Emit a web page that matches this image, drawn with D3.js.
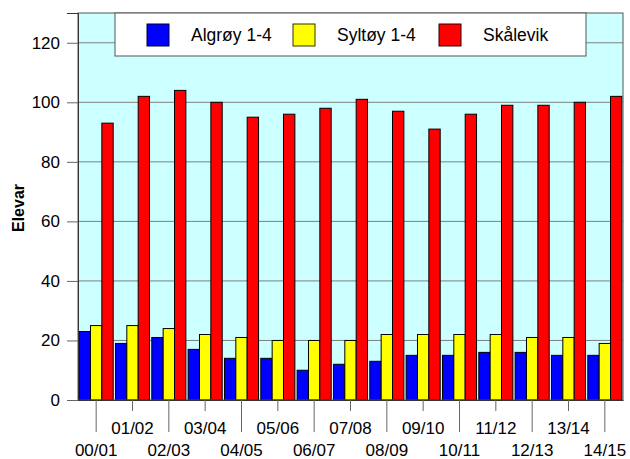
<!DOCTYPE html>
<html lang="no">
<head>
<meta charset="UTF-8">
<title>Elevar</title>
<script src="https://d3js.org/d3.v7.min.js"></script>
<style>
  body { margin: 0; background: #fff; }
  text { font-family: "Liberation Sans", Arial, sans-serif; }
</style>
</head>
<body>
<script>
// school years
var years = ["00/01","01/02","02/03","03/04","04/05","05/06","06/07","07/08",
             "08/09","09/10","10/11","11/12","12/13","13/14","14/15"];
var seriesNames = ["Algrøy 1-4", "Syltøy 1-4", "Skålevik"];
var seriesColors = ["#0000ff", "#ffff00", "#ff0000"];
var seriesStrokes = ["#000033", "#333300", "#330000"];

var algroy  = [23, 19, 21, 17, 14, 14, 10, 12, 13, 15, 15, 16, 16, 15, 15];
var syltoy  = [25, 25, 24, 22, 21, 20, 20, 20, 22, 22, 22, 22, 21, 21, 19];
var skalevik = [93, 102, 104, 100, 95, 96, 98, 101, 97, 91, 96, 99, 99, 100, 102];
var yTicks = [0, 20, 40, 60, 80, 100, 120];

var series = [algroy, syltoy, skalevik];

var W = 630, H = 459;
// plot box (window.top is reserved, so use own names)
var pLeft = 78, pRight = 623, pTop = 13, pBottom = 400;

var svg = d3.select("body").append("svg")
    .attr("width", W)
    .attr("height", H);

var x = d3.scaleBand().domain(years).range([pLeft, pRight]).padding(0);
var xs = d3.scaleBand().domain([0, 1, 2]).range([0, x.bandwidth()])
    .paddingInner(0).paddingOuter(0.1);
var y = d3.scaleLinear().domain([0, 130]).range([pBottom, pTop]);

// plot background
svg.append("rect")
    .attr("x", pLeft).attr("y", pTop)
    .attr("width", pRight - pLeft).attr("height", pBottom - pTop)
    .attr("fill", "#ccffff");

// grid lines
svg.append("g").selectAll("line")
    .data(yTicks.filter(function(d) { return d > 0; }))
  .enter().append("line")
    .attr("x1", pLeft).attr("x2", pRight)
    .attr("y1", function(d) { return y(d); })
    .attr("y2", function(d) { return y(d); })
    .attr("stroke", "#7f7f7f")
    .attr("stroke-width", 1);

// bars
series.forEach(function(vals, s) {
  svg.append("g").selectAll("rect")
      .data(vals)
    .enter().append("rect")
      .attr("x", function(d, i) { return x(years[i]) + xs(s); })
      .attr("y", function(d) { return y(d); })
      .attr("width", xs.bandwidth())
      .attr("height", function(d) { return pBottom - y(d); })
      .attr("fill", seriesColors[s])
      .attr("stroke", "#000")
      .attr("stroke-width", 1);
});

// plot border
svg.append("rect")
    .attr("x", pLeft).attr("y", pTop)
    .attr("width", pRight - pLeft).attr("height", pBottom - pTop)
    .attr("fill", "none")
    .attr("stroke", "#555")
    .attr("stroke-width", 1);

// y axis
var yAxis = svg.append("g")
    .attr("transform", "translate(" + pLeft + ",0)")
    .call(d3.axisLeft(y).tickValues(yTicks).tickSize(11).tickPadding(7));
yAxis.select(".domain").attr("stroke", "#333");
yAxis.selectAll(".tick line").attr("stroke", "#666");
yAxis.selectAll(".tick text")
    .style("font-size", "17px")
    .attr("fill", "#000")
    .style("font-family", "'Liberation Sans', Arial, sans-serif");

// x axis, labels staggered on two rows
var xAxis = svg.append("g")
    .attr("transform", "translate(0," + pBottom + ")")
    .call(d3.axisBottom(x).tickSize(0).tickPadding(0));
xAxis.select(".domain").attr("stroke", "#333");
xAxis.selectAll(".tick line")
    .attr("y2", function(d, i) { return i % 2 === 0 ? 32 : 11; })
    .attr("stroke", "#666");
xAxis.selectAll(".tick text")
    .attr("dy", null)
    .attr("y", function(d, i) { return i % 2 === 0 ? 56 : 33.5; })
    .attr("fill", "#000")
    .style("font-size", "17px")
    .style("font-family", "'Liberation Sans', Arial, sans-serif");

// y label
svg.append("text")
    .attr("transform", "translate(24,208) rotate(-90)")
    .attr("text-anchor", "middle")
    .style("font-size", "16px")
    .style("font-weight", "bold")
    .text("Elevar");

// legend
var legend = svg.append("g");
legend.append("rect")
    .attr("x", 115).attr("y", 13)
    .attr("width", 471).attr("height", 43)
    .attr("fill", "#fff")
    .attr("stroke", "#555");

var legX = [147, 293, 439];
var legTextX = [191, 337, 483];
seriesNames.forEach(function(name, s) {
  legend.append("rect")
      .attr("x", legX[s]).attr("y", 24)
      .attr("width", 22).attr("height", 22)
      .attr("fill", seriesColors[s])
      .attr("stroke", seriesStrokes[s]);
  legend.append("text")
      .attr("x", legTextX[s]).attr("y", 41)
      .style("font-size", "17.5px")
      .text(name);
});
</script>
</body>
</html>
